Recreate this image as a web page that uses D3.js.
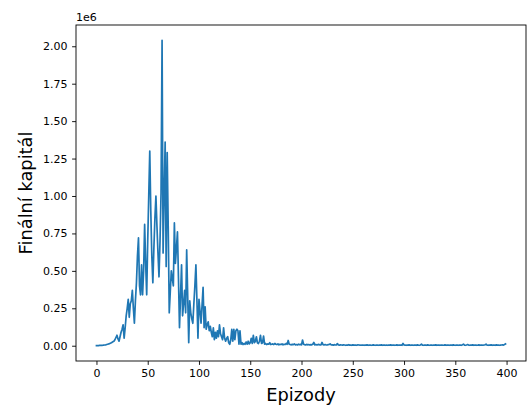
<!DOCTYPE html>
<html>
<head>
<meta charset="utf-8">
<script src="https://cdn.jsdelivr.net/npm/d3@7"></script>
<style>
  body { margin: 0; background: #fff; }
  svg { display: block; font-family: "DejaVu Sans", sans-serif; }
</style>
</head>
<body>
<div id="chart"></div>
<script>
// Final capital per episode, in thousands
var growth = [1, 1, 1, 2, 2, 3, 3, 4, 5, 6, 8, 10, 12, 15, 18, 22, 26, 30, 40, 55,
  70, 45, 30, 60, 90, 110, 140, 50, 120, 200, 250, 310, 190, 280, 300, 370, 250, 150, 300, 420,
  600, 720, 400, 340, 540, 340, 500, 810, 550, 340, 700, 1000, 1300, 900, 600, 420, 650, 850, 1000, 800];
var peak = [620, 460, 700, 1020, 2040, 620, 1000, 1360, 530, 1290, 790, 220, 360, 500, 450, 400, 820, 550, 650, 760,
  450, 120, 330, 540, 200, 280, 370, 220, 640, 330, 20, 300, 220, 180, 150, 280, 400, 540, 300, 50];
var decline = [310, 230, 150, 270, 390, 120, 260, 110, 140, 160, 100, 130, 90, 60, 120, 40, 90, 50, 100, 60,
  140, 80, 60, 40, 120, 50, 30, 50, 60, 20, 10, 40, 110, 30, 110, 40, 100, 110, 100, 10, 100, 10];
var tail = [20, 8, 15, 10, 25, 10, 30, 12, 20, 50, 15, 70, 20, 30, 60, 20, 15, 30,
  70, 15, 20, 65, 10, 15, 8, 12, 10, 20, 8, 10, 12, 8, 15, 10, 8, 12, 6, 10,
  8, 12, 6, 10, 8, 15, 10, 35, 10, 8, 6, 9, 7, 12, 6, 8, 5, 10, 7, 9,
  6, 38, 10, 7, 5, 9, 6, 8, 5, 7, 6, 10, 22, 6, 8, 5, 7, 9, 5, 6,
  22, 7, 5, 8, 6, 5, 7, 9, 12, 5, 6, 4, 7, 5, 6, 14, 5, 4, 6, 5,
  4, 6, 5, 3, 5, 4, 7, 4, 5, 3, 6, 4, 5, 4, 3, 6, 5, 4, 3, 5,
  4, 3, 5, 4, 6, 3, 4, 5, 3, 4, 6, 4, 3, 5, 4, 3, 5, 4, 6, 3,
  4, 5, 3, 4, 3, 5, 4, 6, 3, 4, 5, 3, 4, 6, 3, 4, 5, 4, 3, 15,
  5, 4, 3, 5, 4, 6, 3, 4, 5, 3, 4, 5, 3, 6, 4, 3, 5, 10, 4, 3,
  5, 4, 3, 6, 4, 3, 5, 4, 3, 5, 4, 6, 3, 4, 5, 3, 4, 5, 3, 4,
  6, 3, 4, 5, 3, 4, 5, 3, 6, 4, 3, 5, 4, 3, 5, 4, 3, 6, 10, 4,
  3, 5, 8, 4, 3, 5, 4, 6, 3, 4, 5, 3, 4, 6, 3, 5, 4, 3, 5, 6,
  10, 4, 3, 5, 4, 6, 3, 5, 4, 3, 6, 4, 5, 3, 4, 5, 6, 4, 8, 12];

var xTicks = [0, 50, 100, 150, 200, 250, 300, 350, 400];
var yTicks = [0, 0.25, 0.5, 0.75, 1.0, 1.25, 1.5, 1.75, 2.0];

var capital = growth.concat(peak, decline, tail).map(function (v) { return v * 1000; });
var data = capital.map(function (v, i) { return { ep: i, v: v }; });

var W = 528, H = 408;
var m = { left: 76, right: 526, top: 25, bottom: 361 };

var svg = d3.select('#chart').append('svg').attr('width', W).attr('height', H);

// matplotlib style 5% margins
var xMax = data.length - 1, yMax = d3.max(capital);
var x = d3.scaleLinear().domain([-0.05 * xMax, xMax * 1.05]).range([m.left, m.right]);
var y = d3.scaleLinear().domain([-0.05 * yMax, yMax * 1.05]).range([m.bottom, m.top]);

// line
svg.append('path')
  .datum(data)
  .attr('fill', 'none')
  .attr('stroke', '#1f77b4')
  .attr('stroke-width', 1.7)
  .attr('stroke-linejoin', 'round')
  .attr('stroke-linecap', 'square')
  .attr('d', d3.line().x(function (d) { return x(d.ep); }).y(function (d) { return y(d.v); }));

// frame
svg.append('rect')
  .attr('x', m.left).attr('y', m.top)
  .attr('width', m.right - m.left).attr('height', m.bottom - m.top)
  .attr('fill', 'none').attr('stroke', '#000').attr('stroke-width', 0.9);

// axes
var xAxis = svg.append('g')
  .attr('transform', 'translate(0,' + m.bottom + ')')
  .call(d3.axisBottom(x).tickValues(xTicks).tickSize(3.9).tickPadding(4.5).tickFormat(d3.format('d')));
var yAxis = svg.append('g')
  .attr('transform', 'translate(' + m.left + ',0)')
  .call(d3.axisLeft(y).tickValues(yTicks.map(function (t) { return t * 1e6; }))
    .tickSize(3.9).tickPadding(4.5).tickFormat(function (d) { return d3.format('.2f')(d / 1e6); }));

[xAxis, yAxis].forEach(function (g) {
  g.select('.domain').remove();
  g.selectAll('line').attr('stroke', '#000').attr('stroke-width', 0.9);
  g.selectAll('text').attr('fill', '#000').style('font-size', '11px').style('font-family', '"DejaVu Sans", sans-serif');
});

// offset text
svg.append('text')
  .attr('x', m.left).attr('y', m.top - 4)
  .style('font-size', '11px')
  .text('1e6');

// axis labels
svg.append('text')
  .attr('x', (m.left + m.right) / 2).attr('y', 401)
  .attr('text-anchor', 'middle')
  .style('font-size', '17.8px')
  .text('Epizody');

svg.append('text')
  .attr('transform', 'translate(32,' + (m.top + m.bottom) / 2 + ') rotate(-90)')
  .attr('text-anchor', 'middle')
  .style('font-size', '17.8px')
  .text('Finální kapitál');
</script>
</body>
</html>
